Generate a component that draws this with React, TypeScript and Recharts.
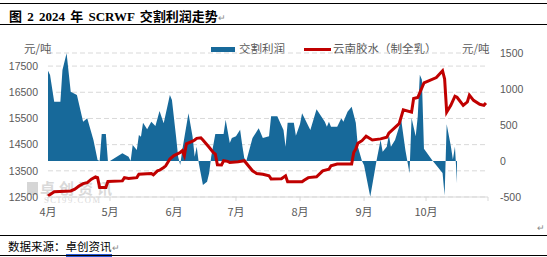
import React from 'react';
import { ComposedChart, Area, Line, XAxis, YAxis, CartesianGrid } from 'recharts';

// day index counted from 2024-04-01
const profitDays = [
  0, 1, 3, 6, 7, 9, 11, 14, 17, 19, 22, 24, 25, 26, 28, 29, 30, 36, 39, 40,
  41, 43, 44, 45, 46, 48, 50, 52, 54, 56, 59, 60, 62, 63, 64, 65, 68, 70, 71, 72,
  73, 75, 77, 78, 79, 81, 85, 86, 88, 89, 91, 93, 94, 95, 96, 99, 102, 104, 107, 108,
  111, 114, 115, 116, 119, 120, 122, 123, 127, 130, 134, 135, 136, 137, 140, 142, 143, 145, 147, 149,
  150, 152, 153, 156, 159, 161, 162, 164, 165, 166, 168, 171, 173, 175, 176, 178, 179, 180, 181, 182,
  186, 191, 192, 193, 195, 196, 197, 198,
];
const profitValues = [
  1254, 1194, 824, 824, 1264, 1496, 963, 917, 546, 593, 292, 14, 0, 375, 375, 0, 0, 106, 60, 0,
  222, 153, 361, 338, 532, 440, 546, 486, 694, 523, 917, 847, 338, 60, -56, 153, 662, 338, 60, 199,
  -32, -333, -287, -171, 60, 375, 375, 574, 250, 319, 343, 435, 227, 42, 0, 319, 456, 319, 343, 620,
  620, 431, 199, 532, 532, 350, 514, 662, 431, 718, 546, 477, 546, 477, 477, 593, 546, 685, 755, 532,
  199, 0, -60, -496, 0, 292, 130, 199, 361, 199, 292, 569, 153, -171, 597, 343, 620, 1199, 1129, 170,
  10, -167, -480, 510, 210, 20, 199, -310,
];

const priceDays = [
  0, 3, 11, 13, 15, 17, 19, 21, 23, 24, 25, 28, 29, 36, 37, 39, 43, 44, 50, 51,
  53, 54, 56, 57, 59, 61, 64, 65, 66, 67, 70, 71, 72, 74, 75, 78, 80, 81, 82, 84,
  85, 87, 88, 92, 95, 99, 101, 104, 107, 108, 113, 115, 116, 123, 124, 126, 130, 133, 136, 137,
  140, 147, 148, 149, 150, 152, 154, 157, 161, 164, 165, 170, 172, 176, 177, 179, 182, 188, 191, 192,
  193, 195, 197, 198, 201, 203, 204, 206, 209, 211, 212,
];
const priceValues = [
  12540, 12700, 12730, 12800, 12920, 13010, 13050, 13180, 13270, 13240, 12860, 12860, 13090, 13115, 13240, 13205, 13240, 13370, 13400, 13350,
  13500, 13525, 13630, 13690, 13950, 14080, 14200, 14270, 14080, 14530, 14630, 14680, 14740, 14760, 14680, 14400, 14200, 14140, 13730, 13720,
  13885, 13860, 13820, 13845, 13885, 13500, 13400, 13370, 13310, 13190, 13200, 13310, 13080, 13080, 13140, 13240, 13270, 13500, 13560, 13690,
  13756, 13756, 14200, 14330, 14550, 14650, 14820, 14680, 14720, 14780, 14940, 15300, 15830, 15740, 16260, 16300, 16860, 17060, 17320, 17010,
  15740, 16000, 16350, 16310, 16000, 16130, 16390, 16190, 16040, 16000, 16090,
];

const monthTicks = [0, 30, 61, 91, 122, 153, 183, 213];
const monthLabels = ['4月', '5月', '6月', '7月', '8月', '9月', '10月', ''];
const leftTicks = [12500, 13500, 14500, 15500, 16500, 17500];
const rightTicks = [-500, 0, 500, 1000, 1500];

type Row = { d: number; profit?: number; price?: number };
const byDay: Record<number, Row> = {};
profitDays.forEach((d, i) => {
  byDay[d] = { ...(byDay[d] || { d }), profit: profitValues[i] };
});
priceDays.forEach((d, i) => {
  byDay[d] = { ...(byDay[d] || { d }), price: priceValues[i] };
});
const rows: Row[] = Object.values(byDay).sort((a, b) => a.d - b.d);

const BLUE = '#17699a';
const RED = '#c00000';
const GREY = '#595959';
const cjk = '"Noto Sans CJK SC", sans-serif';
const num = '"Liberation Sans", Arial, sans-serif';

export default function App() {
  return (
    <div style={{ position: 'absolute', left: 0, top: 0, width: 547, height: 257, background: '#fff', overflow: 'hidden' }}>
      {/* title block */}
      <div style={{ position: 'absolute', left: 0, top: 3, width: 547, borderTop: '1.3px solid #000' }} />
      <div style={{ position: 'absolute', left: 9, top: 6, fontFamily: '"Liberation Serif", "Noto Sans CJK SC", serif', fontWeight: 'bold', fontSize: 13, color: '#000', whiteSpace: 'nowrap', wordSpacing: 2 }}>
        图 2 2024 年 SCRWF 交割利润走势<span style={{ fontWeight: 'normal', fontSize: 9, color: '#888' }}>↵</span>
      </div>
      <div style={{ position: 'absolute', left: 0, top: 24, width: 547, borderTop: '1px solid #000' }} />

      {/* unit labels and legend */}
      <div style={{ position: 'absolute', left: 24, top: 40, fontFamily: cjk, fontSize: 11.5, color: GREY }}>元/吨</div>
      <div style={{ position: 'absolute', left: 462, top: 40, fontFamily: cjk, fontSize: 11.5, color: GREY }}>元/吨</div>
      <div style={{ position: 'absolute', left: 211, top: 47, width: 24, height: 5, background: BLUE }} />
      <div style={{ position: 'absolute', left: 239, top: 40, fontFamily: cjk, fontSize: 11.5, color: GREY, whiteSpace: 'nowrap' }}>交割利润</div>
      <div style={{ position: 'absolute', left: 304, top: 48, width: 27, height: 3, background: RED }} />
      <div style={{ position: 'absolute', left: 333, top: 40, fontFamily: cjk, fontSize: 11.5, color: GREY, whiteSpace: 'nowrap' }}>云南胶水（制全乳）</div>

      {/* watermark */}
      <div style={{ position: 'absolute', left: 27, top: 182, width: 11, height: 13, background: '#d6d6d6' }} />
      <div style={{ position: 'absolute', left: 40, top: 180, fontFamily: cjk, fontSize: 15, lineHeight: '15px', fontWeight: 'bold', color: '#d9d9d9', letterSpacing: 4, whiteSpace: 'nowrap' }}>卓创资讯</div>
      <div style={{ position: 'absolute', left: 44, top: 196, fontFamily: '"Liberation Serif", serif', fontSize: 8.5, lineHeight: '9px', color: '#d9d9d9', letterSpacing: 1.6, whiteSpace: 'nowrap' }}>SCI99.COM</div>

      <div style={{ position: 'absolute', left: 0, top: 0 }}>
        <ComposedChart width={547} height={257} data={rows} margin={{ top: 53, right: 0, bottom: 30, left: 0 }}>
          <CartesianGrid yAxisId="left" vertical={false} stroke="#d9d9d9" strokeDasharray="5 3" />
          <XAxis
            dataKey="d"
            type="number"
            domain={[0, 213]}
            ticks={monthTicks}
            tickFormatter={(v: number) => monthLabels[monthTicks.indexOf(v)] ?? ''}
            interval={0}
            height={30}
            stroke="#d9d9d9"
            tickSize={4}
            tickMargin={7}
            tick={{ fill: GREY, fontSize: 11, fontFamily: cjk }}
          />
          <YAxis
            yAxisId="left"
            domain={[12500, 18000]}
            ticks={leftTicks}
            width={48}
            axisLine={false}
            tickLine={false}
            tickMargin={4}
            interval={0}
            tick={{ fill: GREY, fontSize: 10.5, fontFamily: num }}
          />
          <YAxis
            yAxisId="right"
            orientation="right"
            domain={[-500, 1500]}
            ticks={rightTicks}
            width={59}
            axisLine={false}
            tickLine={false}
            tickMargin={6}
            interval={0}
            tick={{ fill: GREY, fontSize: 10.5, fontFamily: num }}
          />
          <Area
            yAxisId="right"
            dataKey="profit"
            type="linear"
            baseValue={0}
            fill={BLUE}
            fillOpacity={1}
            stroke="none"
            connectNulls
            dot={false}
            activeDot={false}
            isAnimationActive={false}
          />
          <Line
            yAxisId="left"
            dataKey="price"
            type="linear"
            stroke={RED}
            strokeWidth={3}
            connectNulls
            dot={false}
            activeDot={false}
            isAnimationActive={false}
          />
        </ComposedChart>
      </div>

      <div style={{ position: 'absolute', left: 537, top: 223, fontSize: 9, color: '#888' }}>↵</div>

      {/* source block */}
      <div style={{ position: 'absolute', left: 0, top: 235, width: 547, borderTop: '1px solid #000' }} />
      <div style={{ position: 'absolute', left: 8, top: 238, fontFamily: cjk, fontSize: 11.5, color: '#000', whiteSpace: 'nowrap' }}>
        数据来源：<span style={{ borderBottom: '3px double #2a5bd7' }}>卓创资讯</span>
        <span style={{ fontSize: 9, color: '#888' }}>↵</span>
      </div>
      <div style={{ position: 'absolute', left: 0, top: 255, width: 547, borderTop: '1px solid #000' }} />
    </div>
  );
}
